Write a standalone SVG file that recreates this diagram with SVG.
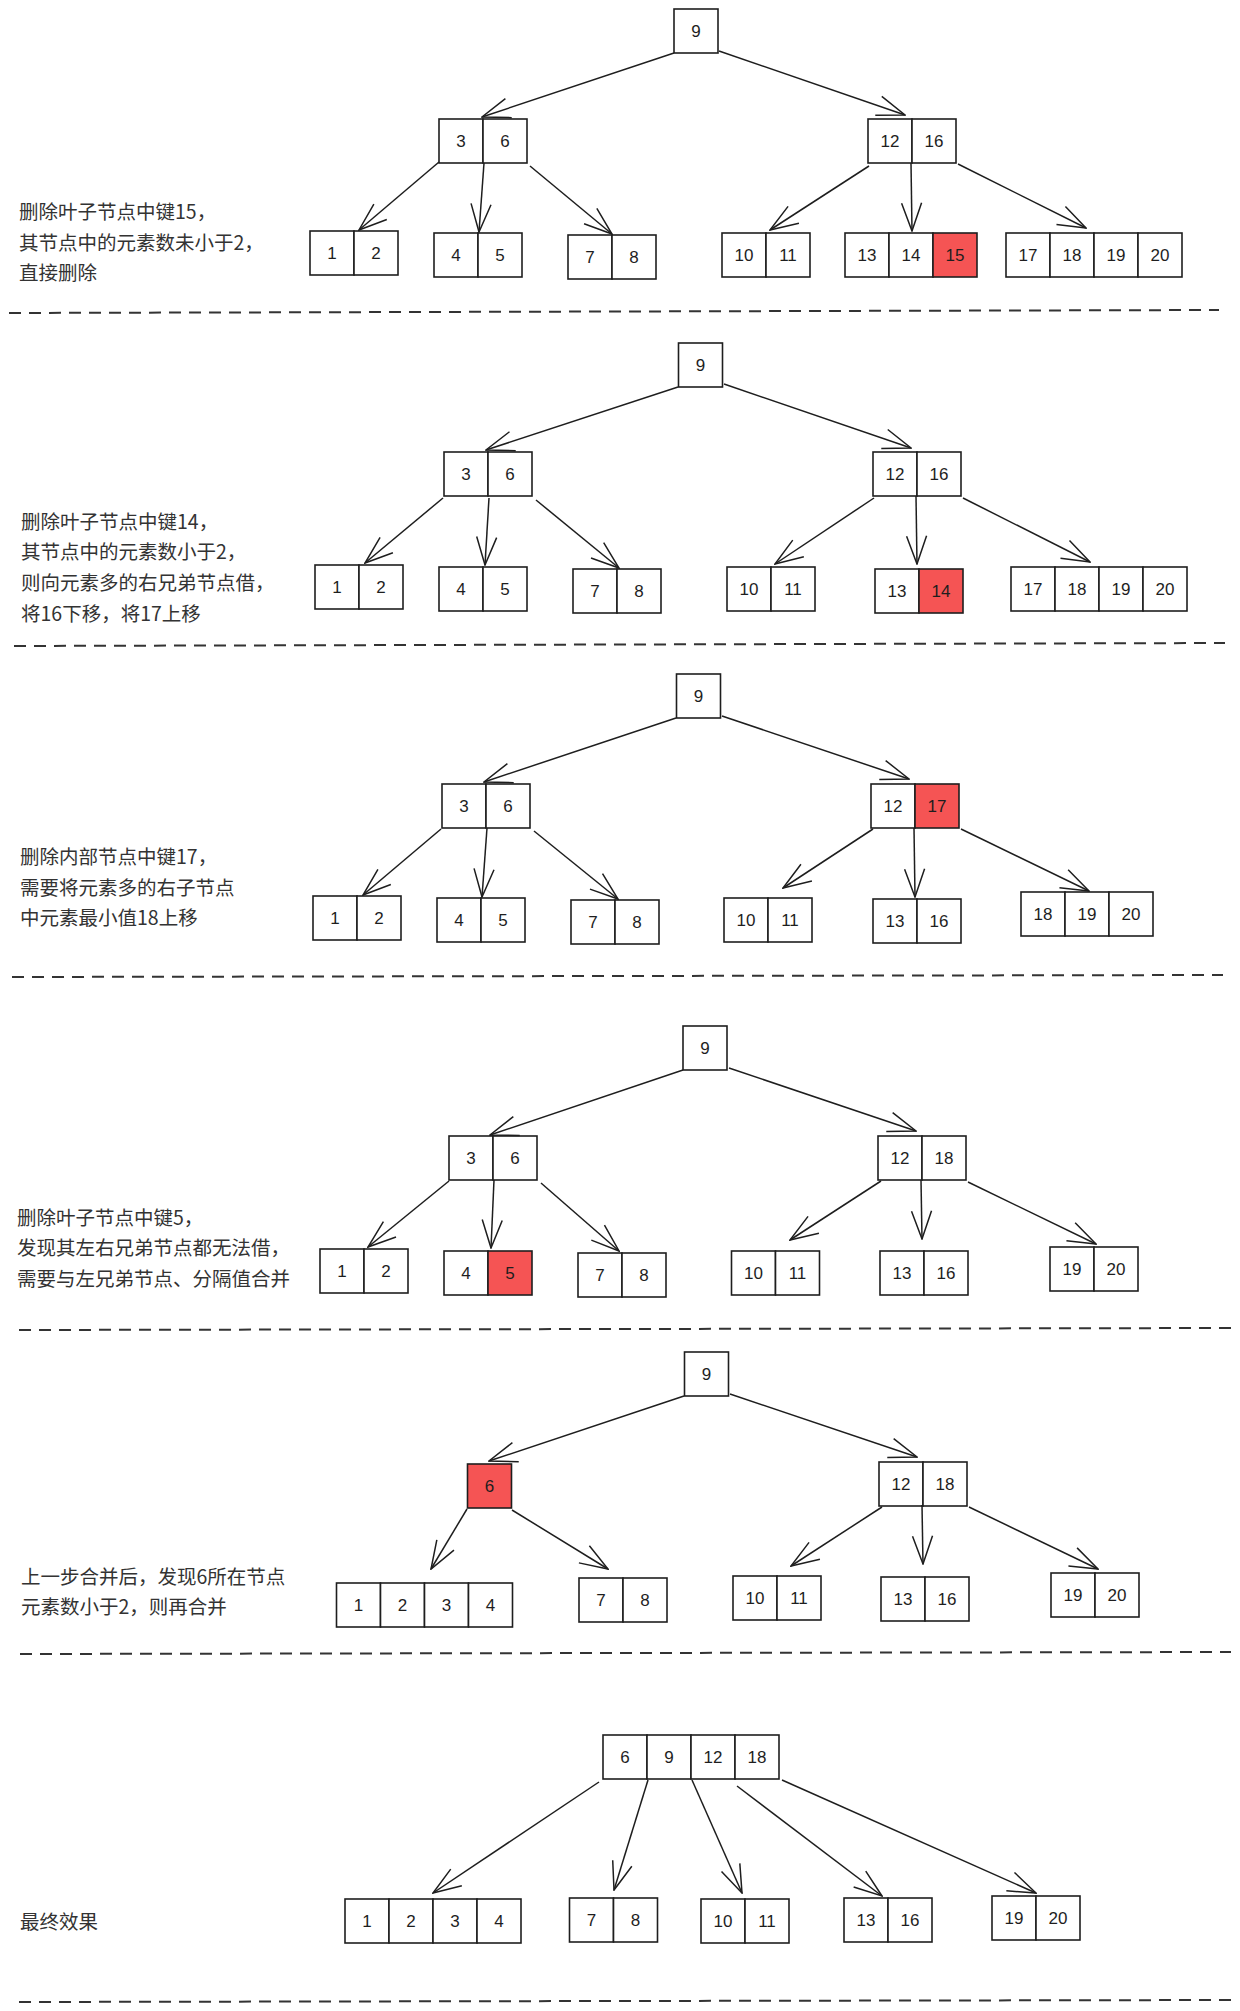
<svg xmlns="http://www.w3.org/2000/svg" width="1240" height="2011" viewBox="0 0 1240 2011">
<style>
.c{fill:#fff;stroke:#1e1e1e;stroke-width:1.6}
.r{fill:#f55454;stroke:#1e1e1e;stroke-width:1.6}
.n{font-family:"Liberation Sans",Arial,sans-serif;font-size:17px;text-anchor:middle;dominant-baseline:central;fill:#1e1e1e}
.t{font-family:"Noto Sans CJK SC","Noto Sans",sans-serif;font-size:19.5px;fill:#333}
.e{stroke:#1e1e1e;stroke-width:1.5;fill:none;marker-end:url(#ah)}
.d{stroke:#333;stroke-width:2;stroke-dasharray:12 8;fill:none}
</style>
<defs>
<marker id="ah" viewBox="0 0 30 24" refX="29" refY="12" markerWidth="30" markerHeight="24" markerUnits="userSpaceOnUse" orient="auto">
<path d="M1,2 L29,12 L1,22" fill="none" stroke="#1e1e1e" stroke-width="1.5"/>
</marker>
</defs>
<rect width="1240" height="2011" fill="#fff"/>

<!-- ===== Section 1 ===== -->
<g id="s1-text"><text class="t" x="19" y="219">删除叶子节点中键15，</text><text class="t" x="19" y="250">其节点中的元素数未小于2，</text><text class="t" x="19" y="280">直接删除</text></g>
<g id="s1-root" transform="translate(674,9)"><rect class="c" width="44" height="44"/><text class="n" x="22" y="22">9</text></g>
<g id="s1-n3-6" transform="translate(439,119)"><rect class="c" width="44" height="44"/><rect class="c" x="44" width="44" height="44"/><text class="n" x="22" y="22">3</text><text class="n" x="66" y="22">6</text></g>
<g id="s1-n12-16" transform="translate(868,119)"><rect class="c" width="44" height="44"/><rect class="c" x="44" width="44" height="44"/><text class="n" x="22" y="22">12</text><text class="n" x="66" y="22">16</text></g>
<g id="s1-l1-2" transform="translate(310,231)"><rect class="c" width="44" height="44"/><rect class="c" x="44" width="44" height="44"/><text class="n" x="22" y="22">1</text><text class="n" x="66" y="22">2</text></g>
<g id="s1-l4-5" transform="translate(434,233)"><rect class="c" width="44" height="44"/><rect class="c" x="44" width="44" height="44"/><text class="n" x="22" y="22">4</text><text class="n" x="66" y="22">5</text></g>
<g id="s1-l7-8" transform="translate(568,235)"><rect class="c" width="44" height="44"/><rect class="c" x="44" width="44" height="44"/><text class="n" x="22" y="22">7</text><text class="n" x="66" y="22">8</text></g>
<g id="s1-l10-11" transform="translate(722,233)"><rect class="c" width="44" height="44"/><rect class="c" x="44" width="44" height="44"/><text class="n" x="22" y="22">10</text><text class="n" x="66" y="22">11</text></g>
<g id="s1-l13-15" transform="translate(845,233)"><rect class="c" width="44" height="44"/><rect class="c" x="44" width="44" height="44"/><rect class="r" x="88" width="44" height="44"/><text class="n" x="22" y="22">13</text><text class="n" x="66" y="22">14</text><text class="n" x="110" y="22">15</text></g>
<g id="s1-l17-20" transform="translate(1006,233)"><rect class="c" width="44" height="44"/><rect class="c" x="44" width="44" height="44"/><rect class="c" x="88" width="44" height="44"/><rect class="c" x="132" width="44" height="44"/><text class="n" x="22" y="22">17</text><text class="n" x="66" y="22">18</text><text class="n" x="110" y="22">19</text><text class="n" x="154" y="22">20</text></g>

<!-- ===== Section 2 ===== -->
<g id="s2-text"><text class="t" x="21" y="529">删除叶子节点中键14，</text><text class="t" x="21" y="559">其节点中的元素数小于2，</text><text class="t" x="21" y="590">则向元素多的右兄弟节点借，</text><text class="t" x="21" y="621">将16下移，将17上移</text></g>
<g id="s2-root" transform="translate(678.5,343)"><rect class="c" width="44" height="44"/><text class="n" x="22" y="22">9</text></g>
<g id="s2-n3-6" transform="translate(444,452)"><rect class="c" width="44" height="44"/><rect class="c" x="44" width="44" height="44"/><text class="n" x="22" y="22">3</text><text class="n" x="66" y="22">6</text></g>
<g id="s2-n12-16" transform="translate(873,452)"><rect class="c" width="44" height="44"/><rect class="c" x="44" width="44" height="44"/><text class="n" x="22" y="22">12</text><text class="n" x="66" y="22">16</text></g>
<g id="s2-l1-2" transform="translate(315,565)"><rect class="c" width="44" height="44"/><rect class="c" x="44" width="44" height="44"/><text class="n" x="22" y="22">1</text><text class="n" x="66" y="22">2</text></g>
<g id="s2-l4-5" transform="translate(439,567)"><rect class="c" width="44" height="44"/><rect class="c" x="44" width="44" height="44"/><text class="n" x="22" y="22">4</text><text class="n" x="66" y="22">5</text></g>
<g id="s2-l7-8" transform="translate(573,569)"><rect class="c" width="44" height="44"/><rect class="c" x="44" width="44" height="44"/><text class="n" x="22" y="22">7</text><text class="n" x="66" y="22">8</text></g>
<g id="s2-l10-11" transform="translate(727,567)"><rect class="c" width="44" height="44"/><rect class="c" x="44" width="44" height="44"/><text class="n" x="22" y="22">10</text><text class="n" x="66" y="22">11</text></g>
<g id="s2-l13-14" transform="translate(875,569)"><rect class="c" width="44" height="44"/><rect class="r" x="44" width="44" height="44"/><text class="n" x="22" y="22">13</text><text class="n" x="66" y="22">14</text></g>
<g id="s2-l17-20" transform="translate(1011,567)"><rect class="c" width="44" height="44"/><rect class="c" x="44" width="44" height="44"/><rect class="c" x="88" width="44" height="44"/><rect class="c" x="132" width="44" height="44"/><text class="n" x="22" y="22">17</text><text class="n" x="66" y="22">18</text><text class="n" x="110" y="22">19</text><text class="n" x="154" y="22">20</text></g>

<!-- ===== Section 3 ===== -->
<g id="s3-text"><text class="t" x="20" y="864">删除内部节点中键17，</text><text class="t" x="20" y="895">需要将元素多的右子节点</text><text class="t" x="20" y="925">中元素最小值18上移</text></g>
<g id="s3-root" transform="translate(676.5,674)"><rect class="c" width="44" height="44"/><text class="n" x="22" y="22">9</text></g>
<g id="s3-n3-6" transform="translate(442,784)"><rect class="c" width="44" height="44"/><rect class="c" x="44" width="44" height="44"/><text class="n" x="22" y="22">3</text><text class="n" x="66" y="22">6</text></g>
<g id="s3-n12-17" transform="translate(871,784)"><rect class="c" width="44" height="44"/><rect class="r" x="44" width="44" height="44"/><text class="n" x="22" y="22">12</text><text class="n" x="66" y="22">17</text></g>
<g id="s3-l1-2" transform="translate(313,896)"><rect class="c" width="44" height="44"/><rect class="c" x="44" width="44" height="44"/><text class="n" x="22" y="22">1</text><text class="n" x="66" y="22">2</text></g>
<g id="s3-l4-5" transform="translate(437,898)"><rect class="c" width="44" height="44"/><rect class="c" x="44" width="44" height="44"/><text class="n" x="22" y="22">4</text><text class="n" x="66" y="22">5</text></g>
<g id="s3-l7-8" transform="translate(571,900)"><rect class="c" width="44" height="44"/><rect class="c" x="44" width="44" height="44"/><text class="n" x="22" y="22">7</text><text class="n" x="66" y="22">8</text></g>
<g id="s3-l10-11" transform="translate(724,898)"><rect class="c" width="44" height="44"/><rect class="c" x="44" width="44" height="44"/><text class="n" x="22" y="22">10</text><text class="n" x="66" y="22">11</text></g>
<g id="s3-l13-16" transform="translate(873,899)"><rect class="c" width="44" height="44"/><rect class="c" x="44" width="44" height="44"/><text class="n" x="22" y="22">13</text><text class="n" x="66" y="22">16</text></g>
<g id="s3-l18-20" transform="translate(1021,892)"><rect class="c" width="44" height="44"/><rect class="c" x="44" width="44" height="44"/><rect class="c" x="88" width="44" height="44"/><text class="n" x="22" y="22">18</text><text class="n" x="66" y="22">19</text><text class="n" x="110" y="22">20</text></g>

<!-- ===== Section 4 ===== -->
<g id="s4-text"><text class="t" x="17" y="1225">删除叶子节点中键5，</text><text class="t" x="17" y="1255">发现其左右兄弟节点都无法借，</text><text class="t" x="17" y="1286">需要与左兄弟节点、分隔值合并</text></g>
<g id="s4-root" transform="translate(683,1026)"><rect class="c" width="44" height="44"/><text class="n" x="22" y="22">9</text></g>
<g id="s4-n3-6" transform="translate(449,1136)"><rect class="c" width="44" height="44"/><rect class="c" x="44" width="44" height="44"/><text class="n" x="22" y="22">3</text><text class="n" x="66" y="22">6</text></g>
<g id="s4-n12-18" transform="translate(878,1136)"><rect class="c" width="44" height="44"/><rect class="c" x="44" width="44" height="44"/><text class="n" x="22" y="22">12</text><text class="n" x="66" y="22">18</text></g>
<g id="s4-l1-2" transform="translate(320,1249)"><rect class="c" width="44" height="44"/><rect class="c" x="44" width="44" height="44"/><text class="n" x="22" y="22">1</text><text class="n" x="66" y="22">2</text></g>
<g id="s4-l4-5" transform="translate(444,1251)"><rect class="c" width="44" height="44"/><rect class="r" x="44" width="44" height="44"/><text class="n" x="22" y="22">4</text><text class="n" x="66" y="22">5</text></g>
<g id="s4-l7-8" transform="translate(578,1253)"><rect class="c" width="44" height="44"/><rect class="c" x="44" width="44" height="44"/><text class="n" x="22" y="22">7</text><text class="n" x="66" y="22">8</text></g>
<g id="s4-l10-11" transform="translate(731.5,1251)"><rect class="c" width="44" height="44"/><rect class="c" x="44" width="44" height="44"/><text class="n" x="22" y="22">10</text><text class="n" x="66" y="22">11</text></g>
<g id="s4-l13-16" transform="translate(880,1251)"><rect class="c" width="44" height="44"/><rect class="c" x="44" width="44" height="44"/><text class="n" x="22" y="22">13</text><text class="n" x="66" y="22">16</text></g>
<g id="s4-l19-20" transform="translate(1050,1247)"><rect class="c" width="44" height="44"/><rect class="c" x="44" width="44" height="44"/><text class="n" x="22" y="22">19</text><text class="n" x="66" y="22">20</text></g>

<!-- ===== Section 5 ===== -->
<g id="s5-text"><text class="t" x="21" y="1584">上一步合并后，发现6所在节点</text><text class="t" x="21" y="1614">元素数小于2，则再合并</text></g>
<g id="s5-root" transform="translate(684.5,1352)"><rect class="c" width="44" height="44"/><text class="n" x="22" y="22">9</text></g>
<g id="s5-n6" transform="translate(467.5,1464)"><rect class="r" width="44" height="44"/><text class="n" x="22" y="22">6</text></g>
<g id="s5-n12-18" transform="translate(879,1462)"><rect class="c" width="44" height="44"/><rect class="c" x="44" width="44" height="44"/><text class="n" x="22" y="22">12</text><text class="n" x="66" y="22">18</text></g>
<g id="s5-l1-4" transform="translate(336.5,1583)"><rect class="c" width="44" height="44"/><rect class="c" x="44" width="44" height="44"/><rect class="c" x="88" width="44" height="44"/><rect class="c" x="132" width="44" height="44"/><text class="n" x="22" y="22">1</text><text class="n" x="66" y="22">2</text><text class="n" x="110" y="22">3</text><text class="n" x="154" y="22">4</text></g>
<g id="s5-l7-8" transform="translate(579,1578)"><rect class="c" width="44" height="44"/><rect class="c" x="44" width="44" height="44"/><text class="n" x="22" y="22">7</text><text class="n" x="66" y="22">8</text></g>
<g id="s5-l10-11" transform="translate(733,1576)"><rect class="c" width="44" height="44"/><rect class="c" x="44" width="44" height="44"/><text class="n" x="22" y="22">10</text><text class="n" x="66" y="22">11</text></g>
<g id="s5-l13-16" transform="translate(881,1577)"><rect class="c" width="44" height="44"/><rect class="c" x="44" width="44" height="44"/><text class="n" x="22" y="22">13</text><text class="n" x="66" y="22">16</text></g>
<g id="s5-l19-20" transform="translate(1051,1573)"><rect class="c" width="44" height="44"/><rect class="c" x="44" width="44" height="44"/><text class="n" x="22" y="22">19</text><text class="n" x="66" y="22">20</text></g>

<!-- ===== Section 6 ===== -->
<g id="s6-text"><text class="t" x="20" y="1929">最终效果</text></g>
<g id="s6-root" transform="translate(603,1735)"><rect class="c" width="44" height="44"/><rect class="c" x="44" width="44" height="44"/><rect class="c" x="88" width="44" height="44"/><rect class="c" x="132" width="44" height="44"/><text class="n" x="22" y="22">6</text><text class="n" x="66" y="22">9</text><text class="n" x="110" y="22">12</text><text class="n" x="154" y="22">18</text></g>
<g id="s6-l1-4" transform="translate(345,1899)"><rect class="c" width="44" height="44"/><rect class="c" x="44" width="44" height="44"/><rect class="c" x="88" width="44" height="44"/><rect class="c" x="132" width="44" height="44"/><text class="n" x="22" y="22">1</text><text class="n" x="66" y="22">2</text><text class="n" x="110" y="22">3</text><text class="n" x="154" y="22">4</text></g>
<g id="s6-l7-8" transform="translate(569.5,1898)"><rect class="c" width="44" height="44"/><rect class="c" x="44" width="44" height="44"/><text class="n" x="22" y="22">7</text><text class="n" x="66" y="22">8</text></g>
<g id="s6-l10-11" transform="translate(701,1899)"><rect class="c" width="44" height="44"/><rect class="c" x="44" width="44" height="44"/><text class="n" x="22" y="22">10</text><text class="n" x="66" y="22">11</text></g>
<g id="s6-l13-16" transform="translate(844,1898)"><rect class="c" width="44" height="44"/><rect class="c" x="44" width="44" height="44"/><text class="n" x="22" y="22">13</text><text class="n" x="66" y="22">16</text></g>
<g id="s6-l19-20" transform="translate(992,1896)"><rect class="c" width="44" height="44"/><rect class="c" x="44" width="44" height="44"/><text class="n" x="22" y="22">19</text><text class="n" x="66" y="22">20</text></g>

<!-- ===== Connectors ===== -->
<g id="connectors">
<line class="e" x1="674" y1="53" x2="482" y2="117"/>
<line class="e" x1="719" y1="51" x2="905" y2="115"/>
<line class="e" x1="439" y1="162" x2="359" y2="230"/>
<line class="e" x1="484" y1="163" x2="479" y2="232"/>
<line class="e" x1="530" y1="166" x2="612" y2="234"/>
<line class="e" x1="869" y1="166" x2="770" y2="230"/>
<line class="e" x1="911" y1="163" x2="912" y2="231"/>
<line class="e" x1="958" y1="164" x2="1086" y2="228"/>

<line class="e" x1="678" y1="387" x2="486" y2="450"/>
<line class="e" x1="724" y1="384" x2="911" y2="448"/>
<line class="e" x1="443" y1="498" x2="365" y2="563"/>
<line class="e" x1="489" y1="498" x2="485" y2="565"/>
<line class="e" x1="536" y1="500" x2="619" y2="568"/>
<line class="e" x1="874" y1="498" x2="775" y2="564"/>
<line class="e" x1="916" y1="496" x2="917" y2="564"/>
<line class="e" x1="963" y1="498" x2="1090" y2="562"/>

<line class="e" x1="676" y1="718" x2="484" y2="782"/>
<line class="e" x1="722" y1="716" x2="909" y2="779"/>
<line class="e" x1="441" y1="829" x2="363" y2="895"/>
<line class="e" x1="487" y1="828" x2="482" y2="897"/>
<line class="e" x1="534" y1="831" x2="618" y2="899"/>
<line class="e" x1="873" y1="829" x2="783" y2="888"/>
<line class="e" x1="914" y1="828" x2="915" y2="897"/>
<line class="e" x1="961" y1="829" x2="1089" y2="891"/>

<line class="e" x1="683" y1="1070" x2="490" y2="1135"/>
<line class="e" x1="729" y1="1068" x2="916" y2="1131"/>
<line class="e" x1="449" y1="1181" x2="368" y2="1247"/>
<line class="e" x1="494" y1="1180" x2="491" y2="1248"/>
<line class="e" x1="541" y1="1183" x2="619" y2="1251"/>
<line class="e" x1="881" y1="1181" x2="790" y2="1240"/>
<line class="e" x1="921" y1="1180" x2="922" y2="1239"/>
<line class="e" x1="968" y1="1182" x2="1096" y2="1244"/>

<line class="e" x1="684" y1="1396" x2="489" y2="1461"/>
<line class="e" x1="730" y1="1394" x2="917" y2="1457"/>
<line class="e" x1="467" y1="1509" x2="431" y2="1569"/>
<line class="e" x1="512" y1="1510" x2="608" y2="1569"/>
<line class="e" x1="882" y1="1507" x2="791" y2="1566"/>
<line class="e" x1="922" y1="1505" x2="923" y2="1564"/>
<line class="e" x1="969" y1="1507" x2="1098" y2="1569"/>

<line class="e" x1="599" y1="1782" x2="433" y2="1893"/>
<line class="e" x1="648" y1="1780" x2="614" y2="1890"/>
<line class="e" x1="692" y1="1780" x2="742" y2="1893"/>
<line class="e" x1="737" y1="1786" x2="882" y2="1896"/>
<line class="e" x1="782" y1="1780" x2="1036" y2="1893"/>
</g>

<!-- ===== Separators ===== -->
<g id="separators">
<line class="d" x1="9" y1="313" x2="1219" y2="310"/>
<line class="d" x1="14" y1="646" x2="1225" y2="643"/>
<line class="d" x1="12" y1="977" x2="1223" y2="975"/>
<line class="d" x1="19" y1="1330" x2="1231" y2="1328"/>
<line class="d" x1="20" y1="1654" x2="1231" y2="1652"/>
<line class="d" x1="19" y1="2002" x2="1231" y2="2000"/>
</g>
</svg>
